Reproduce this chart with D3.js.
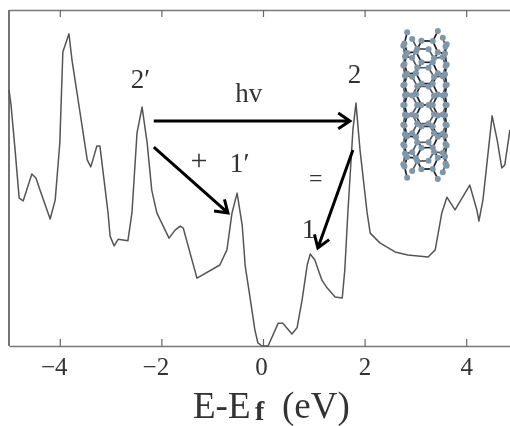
<!DOCTYPE html>
<html>
<head>
<meta charset="utf-8">
<script src="https://cdn.jsdelivr.net/npm/d3@7"></script>
<style>
html, body { margin: 0; padding: 0; background: #fff; overflow: hidden; }
svg { display: block; filter: blur(0.45px); }
text { font-family: "Liberation Serif", serif; fill: #333; }
</style>
</head>
<body>
<div id="chart"></div>
<script>
// energy (eV) and density of states (arbitrary units)
const energy = [-5, -4.96, -4.88, -4.8, -4.72, -4.55, -4.47, -4.39, -4.19, -4.09, -4, -3.94, -3.82, -3.76, -3.6, -3.46, -3.39, -3.27, -3.21, -3.05, -3.01, -2.93, -2.85, -2.66, -2.58, -2.48, -2.38, -2.28, -2.19, -2.09, -1.85, -1.73, -1.63, -1.57, -1.3, -0.85, -0.71, -0.61, -0.51, -0.41, -0.35, -0.26, -0.16, -0.1, -0.02, 0.1, 0.3, 0.39, 0.57, 0.67, 0.77, 0.87, 0.93, 1.02, 1.16, 1.26, 1.42, 1.56, 1.61, 1.67, 1.77, 1.83, 1.91, 2.05, 2.11, 2.3, 2.6, 2.85, 3.25, 3.39, 3.52, 3.62, 3.78, 4.07, 4.21, 4.25, 4.33, 4.51, 4.61, 4.7, 4.76, 4.86];
const dos = [76.2, 71.7, 58.3, 44, 43.2, 51.2, 50, 46.4, 37.8, 43.5, 60.4, 87.5, 92.9, 85.1, 69.3, 55.4, 53.3, 59.5, 59.5, 39.6, 32.7, 29.8, 31.8, 31.3, 39.6, 63.4, 71.1, 60.4, 46.4, 39.6, 32.1, 34.5, 35.7, 35.1, 20.2, 24.1, 28.6, 39.6, 45.5, 36, 23.8, 14.9, 4.8, 0.9, 0, 0, 6.8, 6.8, 3.6, 5.4, 13.7, 24.1, 27.4, 25.6, 19.6, 17.3, 14.6, 14.3, 22.6, 39.6, 64.3, 72.3, 58.3, 39.6, 33.6, 30.7, 28, 27.1, 26.5, 28.6, 39.6, 44.3, 40.5, 47.9, 40.5, 37.2, 43.5, 68.5, 61.3, 53, 53.9, 64.3];
const xTicks = [-4, -2, 0, 2, 4];

// transitions: [fromE, fromDos, toE, toDos]
const arrows = [
    [-2.15, 67, 1.71, 67],
    [-2.15, 59.2, -0.69, 39.6],
    [1.77, 58.3, 1.08, 29.2]
];
// annotations
const labelText = ["2′", "2", "hv", "+", "1′", "=", "1"];
const labelE = [-2.41, 1.8, -0.28, -1.26, -0.46, 1.04, 0.9];
const labelDos = [76.8, 78.3, 72.6, 52.5, 51.7, 47.5, 32.2];
const labelSize = [27, 27, 27, 30, 28, 24, 28];

const width = 510, height = 426;
const x = d3.scaleLinear().domain([-5, 5]).range([9, 517]);
const y = d3.scaleLinear().domain([0, 100]).range([346, 10]);

const svg = d3.select("#chart").append("svg")
    .attr("width", width)
    .attr("height", height)
    .attr("viewBox", [0, 0, width, height]);

// axes
const fmt = d => d < 0 ? "−" + Math.abs(d) : d;
const bottom = svg.append("g")
    .attr("transform", `translate(0,${y(0)})`)
    .call(d3.axisBottom(x).tickValues(xTicks).tickSizeInner(-7).tickSizeOuter(0).tickFormat(fmt));
svg.append("g")
    .attr("transform", `translate(0,${y(100)})`)
    .call(d3.axisTop(x).tickValues(xTicks).tickSizeInner(-7).tickSizeOuter(0).tickFormat(""));
svg.selectAll(".domain").attr("stroke", "#777").attr("stroke-width", 1.6);
svg.selectAll(".tick line").attr("stroke", "#666").attr("stroke-width", 1.2);
bottom.selectAll(".tick text")
    .attr("font-size", 25)
    .attr("font-family", "Liberation Serif")
    .attr("fill", "#444")
    .attr("y", 29)
    .attr("dy", 0)
    .attr("dx", d => d < 0 ? -6 : d === 0 ? -2 : 0);
svg.append("line")
    .attr("x1", x(-5)).attr("x2", x(-5))
    .attr("y1", y(100)).attr("y2", y(0))
    .attr("stroke", "#666").attr("stroke-width", 1.8);

// curve
const line = d3.line().x(d => x(d[0])).y(d => y(d[1]));
svg.append("path")
    .attr("d", line(d3.zip(energy, dos)))
    .attr("fill", "none")
    .attr("stroke", "#555")
    .attr("stroke-width", 1.5)
    .attr("stroke-linejoin", "round");

// arrows
arrows.forEach(a => {
    const [x0, y0, x1, y1] = [x(a[0]), y(a[1]), x(a[2]), y(a[3])];
    const ang = Math.atan2(y1 - y0, x1 - x0);
    const head = s => [x1 + 14 * Math.cos(ang + s * 2.55), y1 + 14 * Math.sin(ang + s * 2.55)];
    svg.append("path")
        .attr("d", `M${x0},${y0}L${x1},${y1}M${head(1)}L${x1},${y1}L${head(-1)}`)
        .attr("fill", "none")
        .attr("stroke", "#000")
        .attr("stroke-width", 3);
});

// labels
svg.append("g").selectAll("text")
    .data(labelText)
    .join("text")
    .attr("x", (d, i) => x(labelE[i]))
    .attr("y", (d, i) => y(labelDos[i]))
    .attr("text-anchor", "middle")
    .attr("font-size", (d, i) => labelSize[i])
    .text(d => d);

// axis title
const title = svg.append("text")
    .attr("y", 418)
    .attr("font-size", 37)
    .attr("fill", "#333");
title.append("tspan").attr("x", 193).text("E-E");
title.append("tspan").attr("x", 255).attr("dy", 2).attr("font-size", 28).attr("font-weight", "bold").text("f");
title.append("tspan").attr("x", 282).attr("dy", -2).text("(eV)");

// nanotube inset, (4,4) lattice rolled up and projected
const tube = svg.append("g");
const nAround = 4, rows = 15, b = 11.5, cx = 425, zTop = 35, zStep = 10;
const R = nAround * 3 * b / (2 * Math.PI), zMid = zTop + (rows - 1) * zStep / 2;
const atoms = [];
d3.range(rows).forEach(j => {
    d3.range(nAround).forEach(k => {
        // every row holds pairs of atoms one bond apart, odd rows shifted by 1.5 bonds
        const s0 = 3 * b * k + (j % 2 ? 1.5 * b : 0);
        const ends = j === 0 || j === rows - 1;
        (ends ? [s0] : [s0, s0 + b]).forEach(s => {
            const t = (s - 2 * b) / R + 0.1;
            const c = Math.cos(t);
            atoms.push({
                s, j, c,
                px: cx + R * Math.sin(t),
                py: zMid + (zTop + j * zStep - zMid) * (1 + 0.07 * c)
            });
        });
    });
});
const period = nAround * 3 * b;
const bonds = [];
atoms.forEach((p, i) => atoms.slice(i + 1).forEach(q => {
    if (Math.abs(p.j - q.j) > 1) return;
    let ds = Math.abs(p.s - q.s) % period;
    ds = Math.min(ds, period - ds);
    if (Math.hypot(ds, (p.j - q.j) * zStep) < b * 1.02) bonds.push([p, q]);
}));
const depth = d => (d[0].c + d[1].c) / 2;
bonds.sort((p, q) => depth(p) - depth(q)).forEach(d => {
    tube.append("line")
        .attr("x1", d[0].px).attr("y1", d[0].py)
        .attr("x2", d[1].px).attr("y2", d[1].py)
        .attr("stroke", depth(d) > 0 ? "#222" : "#555")
        .attr("stroke-width", 1.7);
});
atoms.slice().sort((p, q) => p.c - q.c).forEach(a => {
    tube.append("circle")
        .attr("cx", a.px).attr("cy", a.py).attr("r", 3)
        .attr("fill", "#7f97ab");
});
</script>
</body>
</html>
